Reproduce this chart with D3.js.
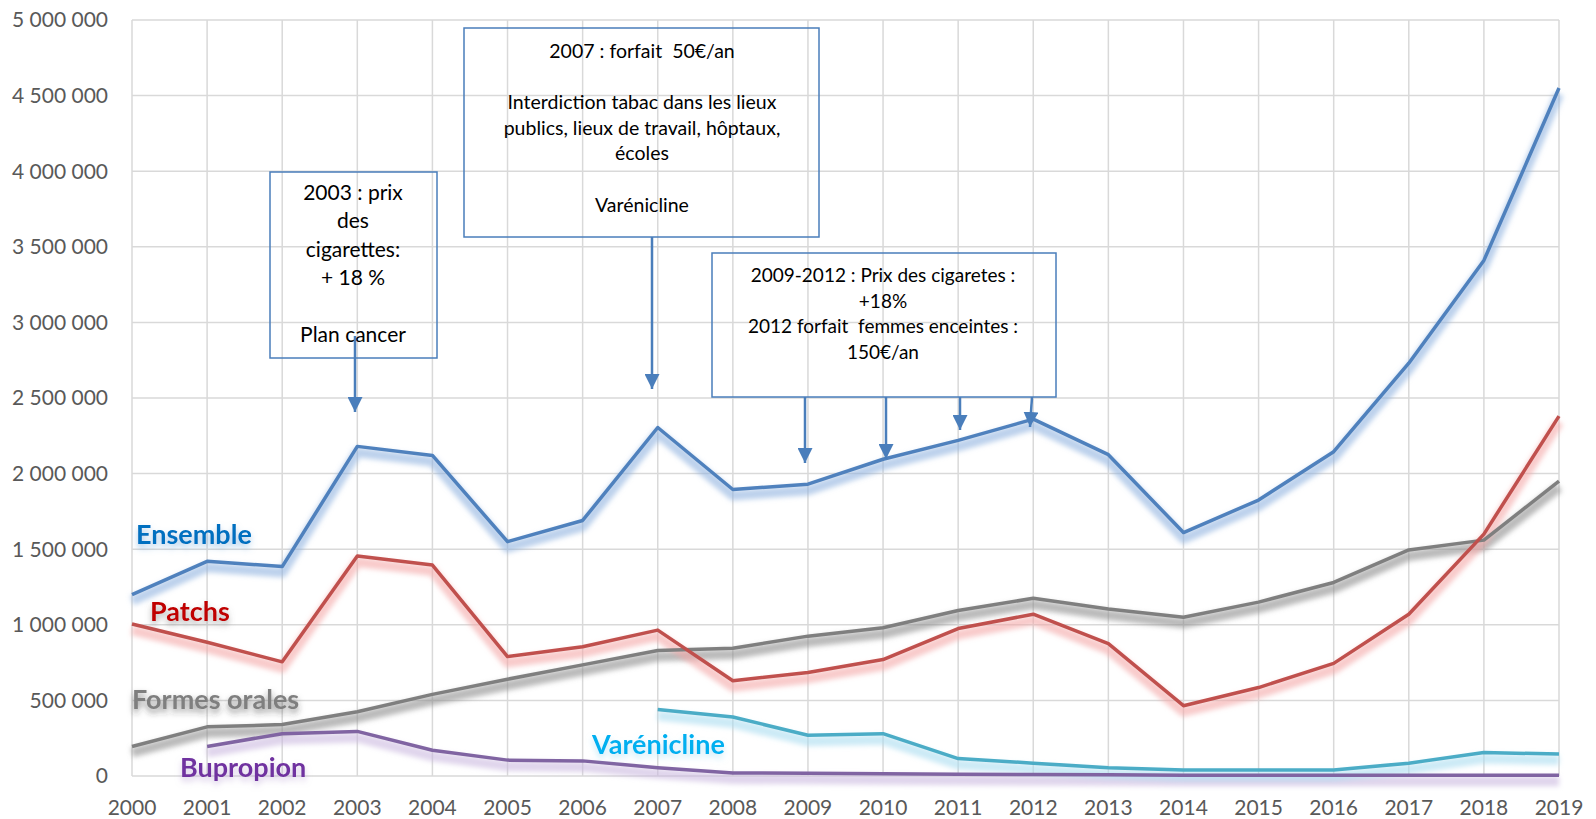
<!DOCTYPE html>
<html>
<head>
<meta charset="utf-8">
<script src="https://cdn.jsdelivr.net/npm/d3@7"></script>
<style>
  body { margin: 0; background: #fff; }
  text { font-family: Lato, "Open Sans", sans-serif; white-space: pre; }
</style>
</head>
<body>
<div id="chart"></div>
<script>
// Years on the x axis
const years = d3.range(2000, 2020);
const yTicks = [0, 500000, 1000000, 1500000, 2000000, 2500000, 3000000, 3500000, 4000000, 4500000, 5000000];

// Series values (null = no data)
const ensemble = [1200000, 1420000, 1385000, 2180000, 2120000, 1550000, 1690000, 2305000, 1895000, 1930000,
                  2095000, 2220000, 2360000, 2125000, 1610000, 1825000, 2145000, 2730000, 3410000, 4550000];
const patchs = [1005000, 885000, 755000, 1455000, 1395000, 790000, 855000, 965000, 630000, 685000,
                770000, 975000, 1070000, 875000, 465000, 585000, 745000, 1070000, 1600000, 2380000];
const formesOrales = [195000, 325000, 340000, 425000, 540000, 640000, 735000, 830000, 845000, 925000,
                      980000, 1095000, 1175000, 1105000, 1050000, 1150000, 1280000, 1495000, 1560000, 1950000];
const varenicline = [null, null, null, null, null, null, null, 440000, 390000, 270000,
                     280000, 115000, 85000, 55000, 40000, 40000, 40000, 85000, 155000, 145000];
const bupropion = [null, 195000, 280000, 295000, 170000, 105000, 100000, 55000, 20000, 18000,
                   15000, 12000, 10000, 8000, 5000, 5000, 5000, 5000, 5000, 5000];

const series = [
  {name: "Formes orales", values: formesOrales, color: "#7f7f7f", glow: "#8c8c8c"},
  {name: "Bupropion", values: bupropion, color: "#8064a2", glow: "#c9b8e0"},
  {name: "Varénicline", values: varenicline, color: "#4bacc6", glow: "#a9dcf0"},
  {name: "Patchs", values: patchs, color: "#c0504d", glow: "#f4a6a6"},
  {name: "Ensemble", values: ensemble, color: "#4f81bd", glow: "#8fb3e0"}
];

const width = 1596, height = 819;
const margin = {top: 20, left: 132, right: 37, bottom: 43};

const svg = d3.select("#chart").append("svg")
    .attr("width", width)
    .attr("height", height);

const defs = svg.append("defs");
defs.append("filter").attr("id", "blur")
    .attr("x", "-5%").attr("y", "-20%").attr("width", "110%").attr("height", "140%")
  .append("feGaussianBlur").attr("stdDeviation", 2.5);

const x = d3.scalePoint()
    .domain(years)
    .range([margin.left, width - margin.right]);

const y = d3.scaleLinear()
    .domain([0, 5000000])
    .range([height - margin.bottom, margin.top]);

// Gridlines
svg.append("g")
  .selectAll("line.h")
  .data(yTicks)
  .join("line")
    .attr("x1", margin.left).attr("x2", width - margin.right)
    .attr("y1", d => y(d)).attr("y2", d => y(d))
    .attr("stroke", "#d9d9d9").attr("stroke-width", 1.5);

svg.append("g")
  .selectAll("line.v")
  .data(years)
  .join("line")
    .attr("x1", d => x(d)).attr("x2", d => x(d))
    .attr("y1", y(0)).attr("y2", y(5000000))
    .attr("stroke", "#d9d9d9").attr("stroke-width", 1.5);

// Axes labels
const fmt = v => d3.format(",")(v).replace(/,/g, " ");
svg.append("g")
  .selectAll("text")
  .data(yTicks)
  .join("text")
    .attr("x", 108)
    .attr("y", d => y(d))
    .attr("dy", "0.35em")
    .attr("text-anchor", "end")
    .attr("font-size", 21)
    .attr("fill", "#595959")
    .text(fmt);

svg.append("g")
  .selectAll("text")
  .data(years)
  .join("text")
    .attr("x", d => x(d))
    .attr("y", 815)
    .attr("text-anchor", "middle")
    .attr("font-size", 21)
    .attr("fill", "#595959")
    .text(d => d);

const line = d3.line()
    .defined(d => d != null)
    .x((d, i) => x(years[i]))
    .y(d => y(d));

// Glow / shadow under each line
series.forEach(s => {
  svg.append("path")
    .attr("d", line(s.values))
    .attr("fill", "none")
    .attr("stroke", s.glow)
    .attr("stroke-width", 10)
    .attr("stroke-opacity", 0.6)
    .attr("stroke-linejoin", "round")
    .attr("transform", "translate(0,6)")
    .attr("filter", "url(#blur)");
});
series.forEach(s => {
  svg.append("path")
    .attr("d", line(s.values))
    .attr("fill", "none")
    .attr("stroke", s.color)
    .attr("stroke-width", 3.5)
    .attr("stroke-linejoin", "round");
});

// Series labels, each with its own soft shadow
const labels = [
  {id: "ens", text: "Ensemble", x: 136, y: 544, color: "#0070c0", glow: "#5b9bd5"},
  {id: "pat", text: "Patchs", x: 150, y: 621, color: "#c00000", glow: "#666666"},
  {id: "for", text: "Formes orales", x: 132, y: 709, color: "#7f7f7f", glow: "#333333"},
  {id: "var", text: "Varénicline", x: 592, y: 754, color: "#00b0f0", glow: "#8fd6f3"},
  {id: "bup", text: "Bupropion", x: 180, y: 777, color: "#7030a0", glow: "#b39ad0"}
];
labels.forEach(l => {
  defs.append("filter").attr("id", "sh-" + l.id)
      .attr("x", "-20%").attr("y", "-50%").attr("width", "140%").attr("height", "200%")
    .append("feDropShadow")
      .attr("dx", 0).attr("dy", 4).attr("stdDeviation", 3)
      .attr("flood-color", l.glow).attr("flood-opacity", 0.55);
  svg.append("text")
    .attr("x", l.x).attr("y", l.y)
    .attr("font-size", 27).attr("font-weight", "bold")
    .attr("fill", l.color)
    .attr("filter", `url(#sh-${l.id})`)
    .text(l.text);
});

// Annotation boxes
const boxColor = "#4a7ebb";
defs.append("marker")
    .attr("id", "arrow")
    .attr("viewBox", "0 0 10 10")
    .attr("refX", 10).attr("refY", 5)
    .attr("markerWidth", 6).attr("markerHeight", 6)
    .attr("markerUnits", "strokeWidth")
    .attr("orient", "auto")
  .append("path")
    .attr("d", "M0,0L10,5L0,10Z")
    .attr("fill", boxColor);

const boxes = [
  {x0: 270, y0: 172, x1: 437, y1: 358, cx: 353, size: 21, lh: 28.3, first: 200,
   lines: ["2003 : prix", "des", "cigarettes:", "+ 18 %", "", "Plan cancer"]},
  {x0: 464, y0: 28, x1: 819, y1: 237, cx: 642, size: 19.5, lh: 25.6, first: 58,
   lines: ["2007 : forfait  50€/an", "", "Interdiction tabac dans les lieux",
           "publics, lieux de travail, hôptaux,", "écoles", "", "Varénicline"]},
  {x0: 712, y0: 253, x1: 1056, y1: 397, cx: 883, size: 19, lh: 25.5, first: 282,
   lines: ["2009-2012 : Prix des cigaretes :", "+18%", "2012 forfait  femmes enceintes :", "150€/an"]}
];

boxes.forEach(b => {
  svg.append("rect")
    .attr("x", b.x0).attr("y", b.y0)
    .attr("width", b.x1 - b.x0).attr("height", b.y1 - b.y0)
    .attr("fill", "none")
    .attr("stroke", boxColor).attr("stroke-width", 1.5);
  b.lines.forEach((t, i) => {
    if (!t) return;
    svg.append("text")
      .attr("x", b.cx).attr("y", b.first + i * b.lh)
      .attr("text-anchor", "middle")
      .attr("font-size", b.size)
      .attr("fill", "#000")
      .text(t);
  });
});

const arrows = [
  {x1: 355, y1: 336, x2: 355, y2: 412},
  {x1: 652, y1: 237, x2: 652, y2: 389},
  {x1: 805, y1: 397, x2: 805, y2: 463},
  {x1: 886, y1: 397, x2: 886, y2: 459},
  {x1: 960, y1: 397, x2: 960, y2: 430},
  {x1: 1032, y1: 397, x2: 1030, y2: 427}
];
arrows.forEach(a => {
  svg.append("line")
    .attr("x1", a.x1).attr("y1", a.y1)
    .attr("x2", a.x2).attr("y2", a.y2)
    .attr("stroke", boxColor).attr("stroke-width", 2.5)
    .attr("marker-end", "url(#arrow)");
});
</script>
</body>
</html>
